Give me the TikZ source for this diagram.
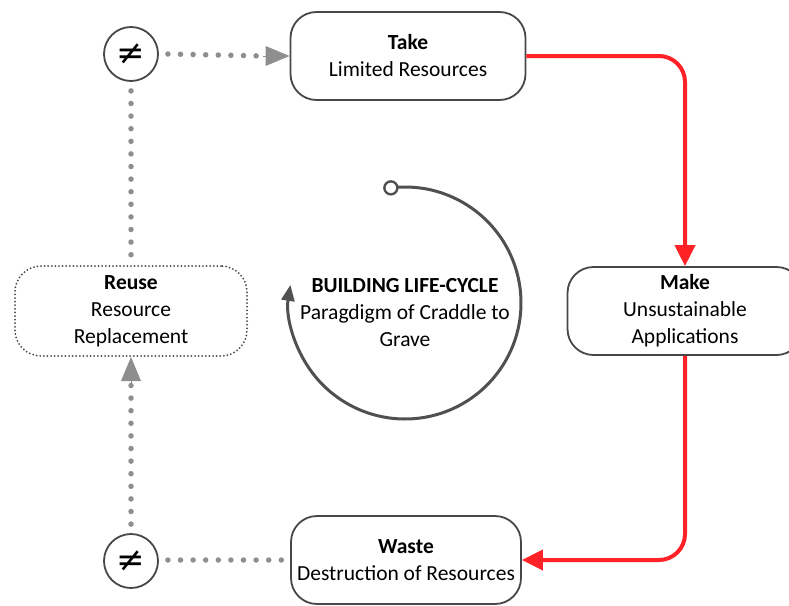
\documentclass[tikz,border=0pt]{standalone}
\usepackage{fontspec}
\setmainfont{Carlito}
\newfontfamily\neqfont{DejaVu Sans}
\usetikzlibrary{arrows.meta,calc}
\definecolor{boxgray}{HTML}{474747}
\definecolor{dotgray}{HTML}{8E8E8E}
\definecolor{flowred}{HTML}{FF2226}
\begin{document}
\begin{tikzpicture}[x=1pt,y=1pt,
    stage/.style={draw=boxgray, line width=1.8pt, rounded corners=26pt, fill=white,
      minimum width=235pt, minimum height=88pt, align=center,
      font=\fontsize{21.5}{27}\selectfont},
    reusebox/.style={stage, draw=boxgray, line width=2pt, dash pattern=on 0pt off 3.6pt, line cap=round},
    neq/.style={circle, draw=boxgray, line width=1.8pt, minimum size=54pt, inner sep=0pt,
      font=\neqfont\fontsize{34}{34}\selectfont},
    redflow/.style={draw=flowred, line width=4pt, rounded corners=26pt,
      -{Triangle[length=21pt,width=20pt]}},
    dotflow/.style={draw=dotgray, line width=5.5pt, line cap=round, dash pattern=on 0pt off 12.6pt},
    graytip/.style={-{Triangle[length=24pt,width=20pt,fill=dotgray,line width=0pt]}},
    cycle/.style={draw=boxgray!95, line width=3pt}]
    \clip (0,0) rectangle (789,-605);
    \fill [white] (0,0) rectangle (789,-605);
    % stages
    \node [stage] (take) at (408,-56) {\textbf{Take}\\Limited Resources};
    \node [stage] (make) at (685,-311) {\textbf{Make}\\Unsustainable\\Applications};
    \node [stage, minimum width=230pt] (waste) at (406,-560) {\textbf{Waste}\\Destruction of Resources};
    \node [reusebox, minimum width=232pt, minimum height=90pt] (reuse) at (131,-311) {\textbf{Reuse}\\Resource\\Replacement};
    % not-equal circles
    \node [neq] (topneq) at (131,-54) {≠};
    \node [neq] (botneq) at (131,-561) {≠};
    % red flow
    \draw [redflow] (take.east) -| (make.north);
    \draw [redflow] (make.south) |- (waste.east);
    % dotted flow
    \draw [dotflow] ([xshift=9pt]botneq.east |- waste.west) -- (waste.west);
    \draw [dotflow] ([yshift=9pt]botneq.north) -- ([yshift=-26pt]reuse.south);
    \draw [dotflow] ([yshift=-9pt]topneq.south) -- (reuse.north);
    \draw [dotflow] ([xshift=9pt]topneq.east) -- ([xshift=-26pt]take.west);
    \draw [draw=dotgray, line width=0pt, graytip] ([xshift=-26pt]take.west) -- (take.west);
    \draw [draw=dotgray, line width=0pt, graytip] ([yshift=-26pt]reuse.south) -- (reuse.south);
    % building life-cycle
    \coordinate (hub) at (405,-303);
    \coordinate (cyclestart) at ($(hub)+(97:116)$);
    \draw [cycle, -{Triangle[length=16pt,width=13pt]}] (cyclestart) arc[start angle=97, end angle=-189, radius=116];
    \node [circle, draw=boxgray!95, line width=2.4pt, fill=white, minimum size=13pt, inner sep=0pt] (startdot) at (cyclestart) {};
    \node [align=center, font=\fontsize{21.5}{27}\selectfont] (lifecycle) at (405,-313)
      {\textbf{BUILDING LIFE-CYCLE}\\Paragdigm of Craddle to\\Grave};
\end{tikzpicture}
\end{document}
